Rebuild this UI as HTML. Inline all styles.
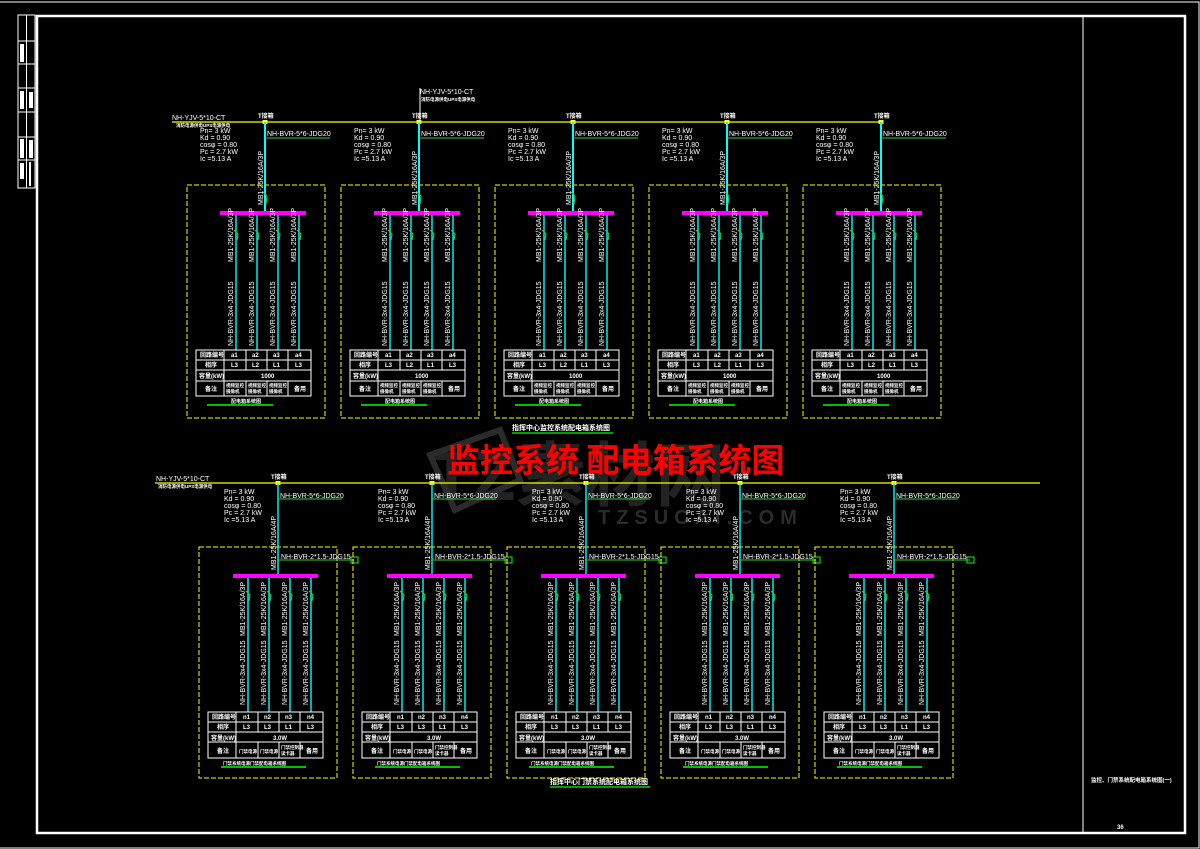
<!DOCTYPE html>
<html><head><meta charset="utf-8"><style>
html,body{margin:0;padding:0;background:#000;}
svg{display:block;}
text{font-family:"Liberation Sans","Noto Sans CJK SC",sans-serif;fill:#fff;}
.s{font-size:7px;}
.t{font-size:6px;font-weight:bold;}
</style></head><body>
<svg width="1200" height="849" viewBox="0 0 1200 849" xmlns="http://www.w3.org/2000/svg">
<defs>
<g id="tp">
<rect x="0" y="185" width="138" height="233" fill="none" stroke="#ff0" stroke-width="1" stroke-dasharray="5,2"/>
<rect x="75.5" y="120" width="5" height="4" fill="#ff0"/>
<text x="71" y="118" class="t">T接箱</text>
<text x="13" y="133" class="s">Pn= 3 kW</text><text x="13" y="140" class="s">Kd = 0.90</text><text x="13" y="147" class="s">cosφ = 0.80</text><text x="13" y="154" class="s">Pc = 2.7 kW</text><text x="13" y="161" class="s">Ic =5.13 A</text>
<line x1="78" y1="122" x2="78" y2="212" stroke="#0ff" stroke-width="2"/>
<line x1="78" y1="138" x2="143" y2="138" stroke="#3c3" stroke-width="1"/>
<text x="80" y="136" class="s">NH-BVR-5*6-JDG20</text>
<text transform="translate(76,205) rotate(-90)" class="s">MB1-25K/16A/3P</text>
<polyline points="76,192 80,196 79,204" fill="none" stroke="#3c3" stroke-width="1.2"/>
<rect x="33" y="211" width="86" height="4" fill="#f0f"/>
<g stroke="#0ff" stroke-width="1.4"><line x1="49" y1="215" x2="49" y2="350"/><line x1="70" y1="215" x2="70" y2="350"/><line x1="91" y1="215" x2="91" y2="350"/><line x1="112" y1="215" x2="112" y2="350"/></g>
<g class="s"><text transform="translate(46,262) rotate(-90)">MB1-25K/16A/3P</text><text transform="translate(67,262) rotate(-90)">MB1-25K/16A/3P</text><text transform="translate(88,262) rotate(-90)">MB1-25K/16A/3P</text><text transform="translate(109,262) rotate(-90)">MB1-25K/16A/3P</text>
<text transform="translate(46,346) rotate(-90)">NH-BVR-3x4-JDG15</text><text transform="translate(67,346) rotate(-90)">NH-BVR-3x4-JDG15</text><text transform="translate(88,346) rotate(-90)">NH-BVR-3x4-JDG15</text><text transform="translate(109,346) rotate(-90)">NH-BVR-3x4-JDG15</text></g>
<g fill="none" stroke="#3c3" stroke-width="1.2"><polyline points="47,230 51,234 50,240"/><polyline points="68,230 72,234 71,240"/><polyline points="89,230 93,234 92,240"/><polyline points="110,230 114,234 113,240"/></g>
<g stroke="#fff" stroke-width="1" fill="none"><rect x="9" y="350" width="115" height="46"/><line x1="9" y1="360" x2="124" y2="360"/><line x1="9" y1="370" x2="124" y2="370"/><line x1="9" y1="381" x2="124" y2="381"/><line x1="37" y1="350" x2="37" y2="396"/><line x1="59" y1="350" x2="59" y2="370"/><line x1="59" y1="381" x2="59" y2="396"/><line x1="80" y1="350" x2="80" y2="370"/><line x1="80" y1="381" x2="80" y2="396"/><line x1="101" y1="350" x2="101" y2="370"/><line x1="101" y1="381" x2="101" y2="396"/></g>
<g class="t"><text x="13" y="357">回路编号</text><text x="44" y="357">a1</text><text x="65" y="357">a2</text><text x="86" y="357">a3</text><text x="108" y="357">a4</text><text x="18" y="367">相序</text><text x="44" y="367">L3</text><text x="65" y="367">L2</text><text x="86" y="367">L1</text><text x="108" y="367">L3</text><text x="12" y="378">容量(kW)</text><text x="74" y="378">1000</text><text x="18" y="391">备注</text><text x="39" y="387" style="font-size:4.5px">视频监控</text><text x="39" y="393" style="font-size:4.5px">摄像机</text><text x="61" y="387" style="font-size:4.5px">视频监控</text><text x="61" y="393" style="font-size:4.5px">摄像机</text><text x="82" y="387" style="font-size:4.5px">视频监控</text><text x="82" y="393" style="font-size:4.5px">摄像机</text><text x="107" y="391">备用</text></g>
<line x1="20" y1="405" x2="86" y2="405" stroke="#0f0" stroke-width="1.5"/>
<text x="44" y="403" class="t" style="font-size:5px">配电箱系统图</text>
</g>
<g id="bp">
<rect x="0" y="547" width="138" height="231" fill="none" stroke="#ff0" stroke-width="1" stroke-dasharray="5,2"/>
<rect x="76.5" y="481" width="5" height="4" fill="#ff0"/>
<text x="72" y="479" class="t">T接箱</text>
<text x="25" y="494" class="s">Pn= 3 kW</text><text x="25" y="501" class="s">Kd = 0.90</text><text x="25" y="508" class="s">cosφ = 0.80</text><text x="25" y="515" class="s">Pc = 2.7 kW</text><text x="25" y="522" class="s">Ic =5.13 A</text>
<line x1="79" y1="483" x2="79" y2="575" stroke="#0ff" stroke-width="1.4"/>
<line x1="79" y1="499" x2="143" y2="499" stroke="#3c3" stroke-width="1"/>
<text x="81" y="498" class="s">NH-BVR-5*6-JDG20</text>
<text transform="translate(77,570) rotate(-90)" class="s">MB1-25K/16A/4P</text>
<line x1="79" y1="560" x2="155" y2="560" stroke="#3c3" stroke-width="1"/>
<rect x="152" y="557" width="7" height="6" fill="none" stroke="#0f0" stroke-width="1"/>
<text x="82" y="559" class="s">NH-BVR-2*1.5-JDG15</text>
<rect x="34" y="574" width="85" height="4" fill="#f0f"/>
<g stroke="#0ff" stroke-width="1.4"><line x1="49" y1="578" x2="49" y2="712"/><line x1="70" y1="578" x2="70" y2="712"/><line x1="91" y1="578" x2="91" y2="712"/><line x1="112" y1="578" x2="112" y2="712"/></g>
<g class="s"><text transform="translate(46,636) rotate(-90)">MB1-25K/16A/3P</text><text transform="translate(67,636) rotate(-90)">MB1-25K/16A/3P</text><text transform="translate(88,636) rotate(-90)">MB1-25K/16A/3P</text><text transform="translate(109,636) rotate(-90)">MB1-25K/16A/3P</text>
<text transform="translate(46,705) rotate(-90)">NH-BVR-3x4-JDG15</text><text transform="translate(67,705) rotate(-90)">NH-BVR-3x4-JDG15</text><text transform="translate(88,705) rotate(-90)">NH-BVR-3x4-JDG15</text><text transform="translate(109,705) rotate(-90)">NH-BVR-3x4-JDG15</text></g>
<g fill="none" stroke="#3c3" stroke-width="1.2"><polyline points="47,591 51,595 50,601"/><polyline points="68,591 72,595 71,601"/><polyline points="89,591 93,595 92,601"/><polyline points="110,591 114,595 113,601"/></g>
<g stroke="#fff" stroke-width="1" fill="none"><rect x="9" y="712" width="115" height="46"/><line x1="9" y1="722" x2="124" y2="722"/><line x1="9" y1="732" x2="124" y2="732"/><line x1="9" y1="742" x2="124" y2="742"/><line x1="37" y1="712" x2="37" y2="758"/><line x1="59" y1="712" x2="59" y2="732"/><line x1="59" y1="742" x2="59" y2="758"/><line x1="80" y1="712" x2="80" y2="732"/><line x1="80" y1="742" x2="80" y2="758"/><line x1="101" y1="712" x2="101" y2="732"/><line x1="101" y1="742" x2="101" y2="758"/></g>
<g class="t"><text x="13" y="719">回路编号</text><text x="44" y="719">n1</text><text x="65" y="719">n2</text><text x="86" y="719">n3</text><text x="108" y="719">n4</text><text x="18" y="729">相序</text><text x="44" y="729">L3</text><text x="65" y="729">L3</text><text x="86" y="729">L1</text><text x="108" y="729">L3</text><text x="12" y="740">容量(kW)</text><text x="74" y="740">3.0W</text><text x="18" y="753">备注</text><text x="40" y="753" style="font-size:4.5px">门禁电源</text><text x="61" y="753" style="font-size:4.5px">门禁电源</text><text x="82" y="749" style="font-size:4.5px">门禁控制器</text><text x="82" y="755" style="font-size:4.5px">读卡器</text><text x="107" y="753">备用</text></g>
<line x1="22" y1="767" x2="107" y2="767" stroke="#0f0" stroke-width="1.5"/>
<text x="24" y="765" class="t" style="font-size:4.5px">门禁系统电源门禁配电箱系统图</text>
</g>
</defs>
<rect width="1200" height="849" fill="#000"/>
<polyline points="0,2 1199,2 1199,848 0,848" fill="none" stroke="#fff" stroke-width="1"/>
<rect x="37" y="16" width="1148" height="817" fill="none" stroke="#fff" stroke-width="2.5"/>
<line x1="1083" y1="16" x2="1083" y2="833" stroke="#fff" stroke-width="1"/>
<text x="1091" y="782" class="t" style="font-size:5.5px">监控、门禁系统配电箱系统图(一)</text>
<text x="1117" y="829" class="t">36</text>
<g stroke="#fff" stroke-width="1" fill="none">
<rect x="18" y="15" width="17" height="173"/>
<line x1="26.5" y1="15" x2="26.5" y2="188"/>
<line x1="18" y1="41" x2="35" y2="41"/><line x1="18" y1="64" x2="35" y2="64"/>
<line x1="18" y1="88" x2="35" y2="88"/><line x1="18" y1="112" x2="35" y2="112"/>
<line x1="18" y1="137" x2="35" y2="137"/><line x1="18" y1="160" x2="35" y2="160"/>
</g>
<g fill="#fff"><rect x="20" y="44" width="4" height="18"/><rect x="20" y="91" width="4" height="18"/><rect x="29" y="92" width="4" height="16"/><rect x="20" y="139" width="4" height="19"/><rect x="29" y="140" width="4" height="18"/><rect x="20" y="163" width="4" height="16"/><rect x="29" y="162" width="2" height="24"/></g>

<g opacity="0.25">
<text x="430" y="500" style="font-size:70px;font-weight:bold;fill:#888">TZ素材网</text>
<text x="598" y="524" style="font-size:20px;font-weight:bold;fill:#aaa;letter-spacing:6px">TZSUCAI.COM</text>
<polygon points="430,455 500,430 520,480 455,510" fill="none" stroke="#aaa" stroke-width="6"/>
</g>

<line x1="172" y1="122" x2="882" y2="122" stroke="#ff0" stroke-width="1.2"/>
<text x="172" y="120" class="s">NH-YJV-5*10-CT</text>
<text x="176" y="127" class="t" style="font-size:4.5px">消防电源供电UPS电源供电</text>
<line x1="420" y1="88" x2="420" y2="122" stroke="#fff" stroke-width="1"/>
<text x="420" y="94" class="s">NH-YJV-5*10-CT</text>
<text x="421" y="101" class="t" style="font-size:4.5px">消防电源供电UPS电源供电</text>

<use href="#tp" x="187" y="0"/>
<use href="#tp" x="341" y="0"/>
<use href="#tp" x="495" y="0"/>
<use href="#tp" x="649" y="0"/>
<use href="#tp" x="803" y="0"/>

<text x="512" y="430" class="t" style="font-size:7px">指挥中心监控系统配电箱系统图</text>
<line x1="512" y1="433" x2="613" y2="433" stroke="#0f0" stroke-width="1.2"/>

<text x="447" y="472" style="font-size:33px;fill:#f00;font-family:'Noto Sans CJK SC',sans-serif;font-weight:bold">监控系统 配电箱系统图</text>

<line x1="155" y1="483" x2="1040" y2="483" stroke="#ff0" stroke-width="1.2"/>
<text x="156" y="481" class="s">NH-YJV-5*10-CT</text>
<text x="158" y="488" class="t" style="font-size:4.5px">消防电源供电UPS电源供电</text>

<use href="#bp" x="199" y="0"/>
<use href="#bp" x="353" y="0"/>
<use href="#bp" x="507" y="0"/>
<use href="#bp" x="661" y="0"/>
<use href="#bp" x="815" y="0"/>

<text x="550" y="784" class="t" style="font-size:7px">指挥中心门禁系统配电箱系统图</text>
<line x1="550" y1="787" x2="650" y2="787" stroke="#0f0" stroke-width="1.2"/>
</svg>
</body></html>
